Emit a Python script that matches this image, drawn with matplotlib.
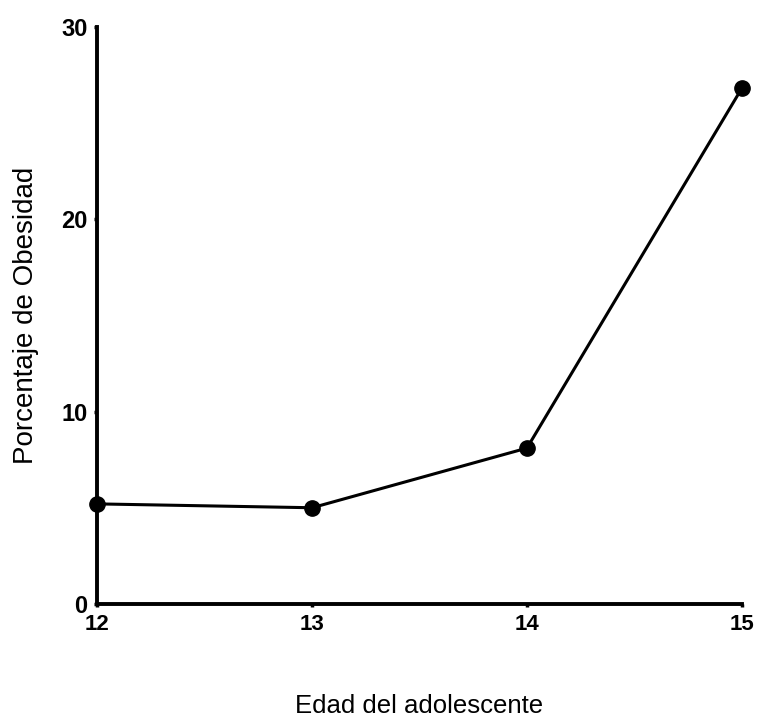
import matplotlib
matplotlib.use("Agg")
from matplotlib import pyplot as plt

# datos
edades = [12, 13, 14, 15]
porcentaje = [5.2, 5.0, 8.1, 26.8]
yticks = [0, 10, 20, 30]

plt.rcParams['font.family'] = ['Liberation Sans', 'DejaVu Sans']

fig = plt.figure(figsize=(7.6, 7.25), dpi=100)
ax = fig.add_axes([0.128, 0.167, 0.848, 0.796])

ax.plot(edades, porcentaje, color='black', linewidth=2.2, marker='o',
        markersize=11, clip_on=False, zorder=3)

ax.set_xlim(12, 15)
ax.set_ylim(0, 30)
ax.set_xticks(edades)
ax.set_yticks(yticks)

for s in ['top', 'right']:
    ax.spines[s].set_visible(False)
for s in ['left', 'bottom']:
    ax.spines[s].set_linewidth(2.8)

ax.tick_params(axis='both', length=2, width=2.5, pad=5)
ax.tick_params(axis='x', labelsize=16)
ax.tick_params(axis='y', labelsize=17)
for lbl in ax.get_xticklabels() + ax.get_yticklabels():
    lbl.set_fontweight('bold')

ax.set_xlabel('Edad del adolescente', fontsize=18.5, labelpad=43)
ax.set_ylabel('Porcentaje de Obesidad', fontsize=20, labelpad=16)

fig.savefig('out.png', dpi=100)
